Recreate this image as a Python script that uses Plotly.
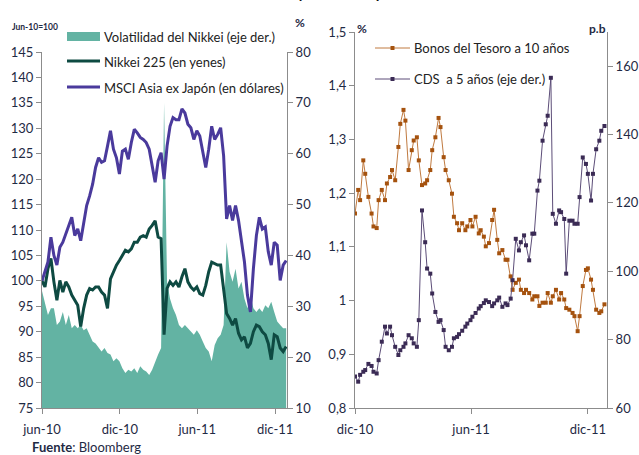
import pandas as pd
import plotly.graph_objects as go

W, H = 639, 455
FONT = "Lato"
TXT = "#1f2a44"
AXIS = "#8c8c8c"
TEAL = "#63b3a3"
GREEN = "#0e4a42"
PURPLE = "#4a3a9c"
ORANGE = "#a5520e"
CDS_COL = "#3b2b55"

# ---- Left panel: weekly index levels (jun-10 = 100) and Nikkei volatility (%) ----
semanas = pd.date_range("2010-06-01", periods=83, freq="7D")

msci = [100.0, 102.1, 103.7, 108.6, 105.0, 103.1, 106.6, 107.6, 109.2, 111.2,
        112.5, 108.9, 110.2, 107.9, 111.5, 114.8, 116.7, 119.0, 122.3, 124.2,
        123.3, 123.6, 126.5, 129.5, 125.9, 124.2, 121.0, 125.5, 125.9, 123.9,
        127.2, 129.8, 129.1, 128.2, 127.8, 127.2, 125.9, 122.6, 119.4, 123.6,
        125.2, 120.0, 126.5, 130.4, 132.1, 131.7, 131.7, 133.8, 133.0, 130.8,
        130.1, 127.8, 129.5, 128.5, 125.2, 122.3, 125.9, 130.4, 127.8, 128.8,
        130.1, 124.6, 112.2, 114.8, 111.9, 114.8, 111.9, 107.6, 103.7, 97.2,
        93.9, 102.4, 108.9, 112.5, 110.2, 110.6, 105.7, 103.1, 107.6, 107.0,
        100.1, 103.1, 104.0]

nikkei = [100.0, 98.8, 102.4, 104.4, 99.8, 96.2, 100.1, 97.8, 99.8, 98.8,
          97.2, 96.2, 95.2, 91.0, 94.6, 97.2, 98.5, 98.2, 98.8, 98.8,
          97.8, 97.2, 94.6, 100.4, 101.8, 103.1, 104.0, 105.0, 106.0, 105.7,
          106.3, 107.6, 107.6, 108.6, 108.9, 108.6, 110.2, 110.9, 111.8, 108.6,
          108.3, 89.4, 98.5, 99.8, 99.1, 99.8, 98.8, 100.8, 102.4, 99.8,
          98.8, 98.2, 98.8, 97.5, 97.2, 99.1, 101.8, 103.7, 103.4, 103.1,
          103.1, 98.5, 93.6, 92.6, 91.3, 92.6, 89.7, 88.4, 89.0, 86.8,
          87.7, 90.0, 91.3, 91.0, 90.0, 89.4, 87.7, 84.5, 89.4, 89.0,
          86.8, 86.1, 87.1]

volatilidad = [33.0, 30.9, 28.3, 29.6, 29.6, 26.3, 27.0, 28.9, 26.3, 28.3,
               25.7, 26.3, 25.7, 26.3, 25.3, 25.7, 24.4, 23.1, 22.7, 21.8,
               21.1, 21.8, 20.8, 20.5, 19.2, 19.8, 19.2, 17.8, 16.9, 17.5,
               17.2, 17.8, 16.9, 18.2, 17.5, 17.2, 16.5, 17.5, 19.2, 20.5,
               21.8, 70.0, 34.8, 31.5, 29.6, 28.3, 26.3, 25.7, 26.3, 25.7,
               25.0, 24.4, 25.3, 24.4, 23.1, 21.8, 21.1, 19.2, 22.4, 23.7,
               24.4, 26.3, 42.6, 36.8, 34.8, 37.4, 33.5, 34.8, 31.5, 29.6,
               32.2, 29.6, 28.9, 29.6, 28.9, 30.2, 29.6, 30.9, 28.9, 27.0,
               26.3, 25.7, 25.7]

# ---- Right panel: 10-year JGB yield (%) and 5-year CDS (bp) ----
dias = pd.bdate_range("2010-12-01", "2011-12-30")[::3][:94]

bonos = [1.162, 1.206, 1.187, 1.261, 1.236, 1.193, 1.162, 1.138, 1.135, 1.187,
         1.206, 1.187, 1.218, 1.230, 1.243, 1.224, 1.286, 1.329, 1.355, 1.335,
         1.243, 1.280, 1.298, 1.304, 1.261, 1.215, 1.218, 1.224, 1.243, 1.280,
         1.304, 1.340, 1.323, 1.267, 1.243, 1.224, 1.199, 1.156, 1.144, 1.131,
         1.144, 1.131, 1.138, 1.150, 1.138, 1.156, 1.125, 1.131, 1.119, 1.101,
         1.107, 1.150, 1.169, 1.113, 1.088, 1.094, 1.076, 1.076, 1.045, 1.020,
         1.033, 1.039, 1.020, 1.014, 1.020, 1.014, 1.002, 1.008, 1.008, 0.990,
         0.996, 0.996, 1.014, 0.996, 1.008, 1.020, 1.002, 1.014, 1.002, 0.986,
         0.983, 0.977, 0.971, 0.943, 0.971, 1.027, 1.057, 1.060, 1.039, 1.020,
         0.983, 0.977, 0.980, 0.993]

cds = [69.2, 67.7, 69.7, 70.6, 71.1, 72.9, 72.3, 70.6, 70.1, 74.0,
       79.4, 83.8, 81.8, 83.8, 81.3, 77.9, 75.5, 76.9, 77.9, 78.9,
       81.3, 80.4, 78.9, 77.9, 85.7, 117.8, 108.5, 100.8, 99.3, 93.5,
       88.1, 85.2, 85.7, 82.8, 77.9, 76.9, 77.9, 80.4, 80.8, 81.6,
       82.6, 83.8, 84.7, 85.7, 86.7, 87.8, 89.1, 89.8, 90.7, 91.5,
       91.0, 89.8, 90.6, 91.5, 92.3, 89.6, 90.6, 90.1, 92.0, 97.4,
       109.5, 106.1, 108.5, 110.5, 107.6, 103.2, 111.0, 111.0, 123.6, 126.5,
       138.2, 143.0, 145.5, 156.6, 116.8, 113.9, 117.8, 117.3, 115.3, 99.3,
       114.8, 114.8, 113.9, 113.9, 121.7, 133.3, 131.4, 128.5, 120.7, 128.5,
       135.7, 138.2, 141.1, 142.5]

# ---- Tick labels ----
meses_izq = ["2010-06-01", "2010-12-01", "2011-06-01", "2011-12-01"]
etiq_izq = ["jun-10", "dic-10", "jun-11", "dic-11"]
meses_der = ["2010-12-01", "2011-06-01", "2011-12-01"]
etiq_der = ["dic-10", "jun-11", "dic-11"]
ticks_pct = [0.8, 0.9, 1.0, 1.1, 1.2, 1.3, 1.4, 1.5]
etiq_pct = ["0,8", "0,9", "1", "1,1", "1,2", "1,3", "1,4", "1,5"]
ticks_pb = [60, 80, 100, 120, 140, 160]


def px(x):
    return x / W


def py(y):
    return 1 - y / H


fig = go.Figure()

# volatility area sits on the base axis so the index lines (overlay axis) draw above it
fig.add_trace(go.Scatter(x=semanas, y=volatilidad, xaxis="x", yaxis="y",
                         mode="lines", fill="tozeroy", fillcolor=TEAL,
                         line=dict(width=0, color=TEAL), hoverinfo="skip"))
fig.add_trace(go.Scatter(x=semanas, y=nikkei, xaxis="x", yaxis="y2",
                         mode="lines", line=dict(width=3, color=GREEN)))
fig.add_trace(go.Scatter(x=semanas, y=msci, xaxis="x", yaxis="y2",
                         mode="lines", line=dict(width=3, color=PURPLE)))

fig.add_trace(go.Scatter(x=dias, y=bonos, xaxis="x2", yaxis="y3",
                         mode="lines+markers", line=dict(width=1, color="#c07a40"),
                         marker=dict(symbol="square", size=4, color=ORANGE)))
fig.add_trace(go.Scatter(x=dias, y=cds, xaxis="x2", yaxis="y4",
                         mode="lines+markers", line=dict(width=1, color="#5c4d78"),
                         marker=dict(symbol="square", size=4, color=CDS_COL)))

ax = dict(showline=True, linecolor=AXIS, linewidth=1, ticks="outside",
          ticklen=5, tickcolor=AXIS, showgrid=False, zeroline=False,
          automargin=False, tickfont=dict(family=FONT, size=13, color=TXT))

fig.update_layout(
    width=W, height=H,
    margin=dict(l=0, r=0, t=0, b=0, autoexpand=False),
    paper_bgcolor="white", plot_bgcolor="white",
    showlegend=False,
    xaxis=dict(**ax, domain=[px(42), px(287)], anchor="y", type="date",
               range=["2010-06-01", "2011-12-29"], ticklabelstandoff=4,
               tickvals=meses_izq, ticktext=etiq_izq),
    yaxis=dict(**ax, domain=[py(408), py(52)], anchor="x", side="right",
               range=[10, 80], tickvals=list(range(10, 81, 10))),
    yaxis2=dict(**ax, overlaying="y", side="left", anchor="x",
                range=[75, 145], tickvals=list(range(75, 146, 5))),
    xaxis2=dict(**ax, domain=[px(355), px(607)], anchor="y3", type="date",
                range=["2010-12-01", "2011-12-31"], ticklabelstandoff=4,
                tickvals=meses_der, ticktext=etiq_der),
    yaxis3=dict(**ax, domain=[py(408), py(32)], anchor="x2",
                range=[0.8, 1.5], tickvals=ticks_pct, ticktext=etiq_pct),
    yaxis4=dict(**ax, overlaying="y3", side="right", anchor="x2",
                range=[60, 170], tickvals=ticks_pb),
)

# ---- Legend swatches ----
shapes = [
    dict(type="rect", xref="paper", yref="paper", x0=px(67), x1=px(100),
         y0=py(41), y1=py(32), fillcolor=TEAL, line=dict(width=0)),
    dict(type="line", xref="paper", yref="paper", x0=px(67), x1=px(100),
         y0=py(61), y1=py(61), line=dict(color=GREEN, width=3)),
    dict(type="line", xref="paper", yref="paper", x0=px(67), x1=px(100),
         y0=py(87), y1=py(87), line=dict(color=PURPLE, width=3)),
    dict(type="line", xref="paper", yref="paper", x0=px(375), x1=px(410),
         y0=py(48), y1=py(48), line=dict(color="#c07a40", width=1)),
    dict(type="rect", xref="paper", yref="paper", x0=px(390.5), x1=px(394.5),
         y0=py(50), y1=py(46), fillcolor=ORANGE, line=dict(width=0)),
    dict(type="line", xref="paper", yref="paper", x0=px(375), x1=px(410),
         y0=py(79), y1=py(79), line=dict(color="#5c4d78", width=1)),
    dict(type="rect", xref="paper", yref="paper", x0=px(390.5), x1=px(394.5),
         y0=py(81), y1=py(77), fillcolor=CDS_COL, line=dict(width=0)),
]


def txt(text, x, y, size=13, xanchor="left", yanchor="middle", color="#222222"):
    return dict(text=text, x=px(x), y=py(y), xref="paper", yref="paper",
                xanchor=xanchor, yanchor=yanchor, showarrow=False,
                font=dict(family=FONT, size=size, color=color))


annotations = [
    txt("Volatilidad del Nikkei (eje der.)", 102, 37),
    txt("Nikkei 225 (en yenes)", 102, 62),
    txt("MSCI Asia ex Japón (en dólares)", 102, 88),
    txt("Bonos del Tesoro a 10 años", 412, 48),
    txt("CDS  a 5 años (eje der.)", 412, 79),
    txt("<b>Jun-10=100</b>", 35, 27, size=8.5, xanchor="center", color=TXT),
    txt("<b>%</b>", 300, 22, size=12, xanchor="center", color=TXT),
    txt("<b>%</b>", 362, 29, size=12, xanchor="center", color=TXT),
    txt("<b>p.b</b>", 597, 29, size=12, xanchor="center", color=TXT),
    txt("<b>Fuente</b>: Bloomberg", 30, 437, size=13, yanchor="top", color=TXT),
    txt("<b>Mercados de renta variable y CDS de Japón</b>", 257, -8, size=15,
        xanchor="center", color="#111111"),
]

fig.update_layout(shapes=shapes, annotations=annotations)

fig.write_html("out.html")
